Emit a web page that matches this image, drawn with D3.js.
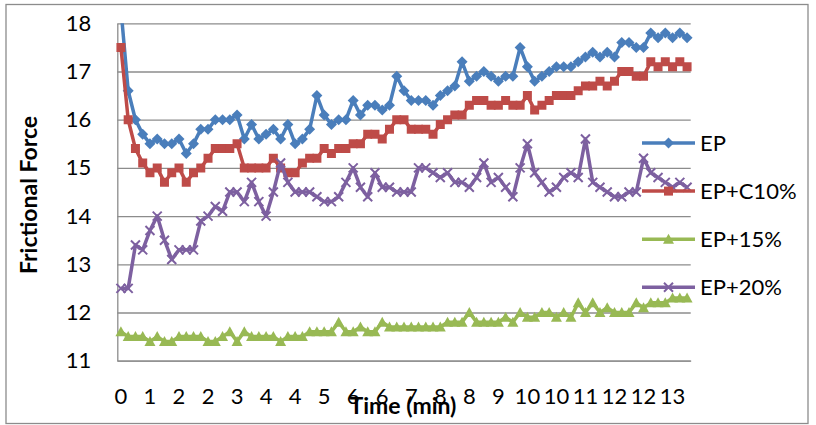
<!DOCTYPE html>
<html>
<head>
<meta charset="utf-8">
<script src="https://cdn.jsdelivr.net/npm/d3@7"></script>
<style>
	body { margin: 0; background: #fff; }
	text { font-family: Lato, "Open Sans", sans-serif; fill: #000; }
</style>
</head>
<body>
<div id="chart-area"></div>
<script>
/*
*    frictional force vs time
*/

var seriesNames = ["EP", "EP+C10%", "EP+15%", "EP+20%"];

var ep = [18.3, 16.6, 16.0, 15.7, 15.5, 15.6, 15.5, 15.5, 15.6, 15.3,
	15.5, 15.8, 15.8, 16.0, 16.0, 16.0, 16.1, 15.6, 15.9, 15.6,
	15.7, 15.8, 15.6, 15.9, 15.5, 15.6, 15.8, 16.5, 16.1, 15.9,
	16.0, 16.0, 16.4, 16.1, 16.3, 16.3, 16.2, 16.3, 16.9, 16.6,
	16.4, 16.4, 16.4, 16.3, 16.5, 16.6, 16.7, 17.2, 16.8, 16.9,
	17.0, 16.9, 16.8, 16.9, 16.9, 17.5, 17.1, 16.8, 16.9, 17.0,
	17.1, 17.1, 17.1, 17.2, 17.3, 17.4, 17.3, 17.4, 17.3, 17.6,
	17.6, 17.5, 17.5, 17.8, 17.7, 17.8, 17.7, 17.8, 17.7];

var epC10 = [17.5, 16.0, 15.4, 15.1, 14.9, 15.0, 14.7, 14.9, 15.0, 14.7,
	14.9, 15.0, 15.2, 15.4, 15.4, 15.4, 15.5, 15.0, 15.0, 15.0,
	15.0, 15.2, 15.0, 14.9, 14.9, 15.1, 15.2, 15.2, 15.4, 15.3,
	15.4, 15.4, 15.5, 15.5, 15.7, 15.7, 15.6, 15.8, 16.0, 16.0,
	15.8, 15.8, 15.8, 15.7, 15.9, 16.0, 16.1, 16.1, 16.3, 16.4,
	16.4, 16.3, 16.3, 16.4, 16.3, 16.3, 16.5, 16.2, 16.3, 16.4,
	16.5, 16.5, 16.5, 16.6, 16.7, 16.7, 16.8, 16.7, 16.8, 17.0,
	17.0, 16.9, 16.9, 17.2, 17.1, 17.2, 17.1, 17.2, 17.1];

var ep15 = [11.6, 11.5, 11.5, 11.5, 11.4, 11.5, 11.4, 11.4, 11.5, 11.5,
	11.5, 11.5, 11.4, 11.4, 11.5, 11.6, 11.4, 11.6, 11.5, 11.5,
	11.5, 11.5, 11.4, 11.5, 11.5, 11.5, 11.6, 11.6, 11.6, 11.6,
	11.8, 11.6, 11.6, 11.7, 11.6, 11.6, 11.8, 11.7, 11.7, 11.7,
	11.7, 11.7, 11.7, 11.7, 11.7, 11.8, 11.8, 11.8, 12.0, 11.8,
	11.8, 11.8, 11.8, 11.9, 11.8, 12.0, 11.9, 11.9, 12.0, 12.0,
	11.9, 12.0, 11.9, 12.2, 12.0, 12.2, 12.0, 12.1, 12.0, 12.0,
	12.0, 12.2, 12.1, 12.2, 12.2, 12.2, 12.3, 12.3, 12.3];

var ep20 = [12.5, 12.5, 13.4, 13.3, 13.7, 14.0, 13.5, 13.1, 13.3, 13.3,
	13.3, 13.9, 14.0, 14.2, 14.1, 14.5, 14.5, 14.3, 14.7, 14.3,
	14.0, 14.5, 15.1, 14.7, 14.5, 14.5, 14.5, 14.4, 14.3, 14.3,
	14.4, 14.7, 15.0, 14.6, 14.4, 14.9, 14.6, 14.6, 14.5, 14.5,
	14.5, 15.0, 15.0, 14.9, 14.8, 14.9, 14.7, 14.7, 14.6, 14.8,
	15.1, 14.7, 14.8, 14.6, 14.4, 15.0, 15.5, 14.9, 14.7, 14.5,
	14.6, 14.8, 14.9, 14.8, 15.6, 14.7, 14.6, 14.5, 14.4, 14.4,
	14.5, 14.5, 15.2, 14.9, 14.8, 14.7, 14.6, 14.7, 14.6];

// every 4th time point gets a label (minutes, rounded)
var timeLabels = ["0", "1", "2", "2", "3", "4", "4", "5", "6", "6",
	"7", "8", "8", "9", "10", "10", "11", "12", "12", "13"];

var yTicks = [11, 12, 13, 14, 15, 16, 17, 18];

var colors = ["#4A7EBB", "#BE4B48", "#98B954", "#7D60A0"];
var markers = ["diamond", "square", "triangle", "cross"];

var margin = { left: 117.3, top: 23.3 };
var width = 573.4;
var height = 337.4;

var svg = d3.select("#chart-area").append("svg")
	.attr("width", 816)
	.attr("height", 425);

// chart border
svg.append("rect")
	.attr("x", 6)
	.attr("y", 4.5)
	.attr("width", 802)
	.attr("height", 419)
	.attr("fill", "none")
	.attr("stroke", "#8c8c8c")
	.attr("stroke-width", 1.3);

var g = svg.append("g")
	.attr("transform", "translate(" + margin.left + ", " + margin.top + ")");

// Scales
var x = d3.scaleBand()
	.domain(d3.range(ep.length))
	.range([0, width]);

var y = d3.scaleLinear()
	.domain([11, 18])
	.range([height, 0]);

var cx = (d, i) => x(i) + x.bandwidth() / 2;

// gridlines
g.append("g")
	.attr("class", "grid")
	.call(d3.axisLeft(y).tickValues(yTicks).tickSize(-width).tickFormat(""))
	.call((sel) => sel.select(".domain").remove())
	.selectAll("line")
	.attr("stroke", "#8c8c8c")
	.attr("stroke-width", 1.3);

// Axis calls
var xAxisCall = d3.axisBottom(x)
	.tickValues(d3.range(0, ep.length, 4))
	.tickSize(0)
	.tickPadding(28)
	.tickFormat((d, i) => timeLabels[i]);

var yAxisCall = d3.axisLeft(y)
	.tickValues(yTicks)
	.tickSize(0)
	.tickPadding(26)
	.tickFormat(d3.format("d"));

var xAxisGroup = g.append("g")
	.attr("class", "x axis")
	.attr("transform", "translate(0, " + height + ")")
	.call(xAxisCall);

var yAxisGroup = g.append("g")
	.attr("class", "y axis")
	.call(yAxisCall);

[xAxisGroup, yAxisGroup].forEach((ax) => {
	ax.select(".domain").attr("stroke", "#8c8c8c").attr("stroke-width", 1.3);
	ax.selectAll("text")
		.style("font-family", "Lato, sans-serif")
		.style("font-size", "22px")
		.attr("fill", "#000");
});

// marker shapes
function markerPath(type) {
	if (type == "diamond") return "M0,-5.5L5.5,0L0,5.5L-5.5,0Z";
	if (type == "square") return "M-4.5,-4.5H4.5V4.5H-4.5Z";
	if (type == "triangle") return "M0,-5.5L5.5,4.5H-5.5Z";
	return "M-4.5,-4.5L4.5,4.5M4.5,-4.5L-4.5,4.5";
}

function drawMarker(sel, type, color) {
	var p = sel.append("path").attr("d", markerPath(type));
	if (type == "cross") {
		p.attr("fill", "none").attr("stroke", color).attr("stroke-width", 2);
	} else {
		p.attr("fill", color);
	}
	return p;
}

// clip lines to the plot area (first EP value is above 18)
svg.append("clipPath")
	.attr("id", "plot-clip")
	.append("rect")
	.attr("x", -10)
	.attr("y", 0)
	.attr("width", width + 20)
	.attr("height", height + 20);

var plot = g.append("g").attr("clip-path", "url(#plot-clip)");

var line = d3.line()
	.x(cx)
	.y((d) => y(d));

var allSeries = [ep, epC10, ep15, ep20];

allSeries.forEach((data, s) => {
	plot.append("path")
		.datum(data)
		.attr("fill", "none")
		.attr("stroke", colors[s])
		.attr("stroke-width", 3.5)
		.attr("stroke-linejoin", "round")
		.attr("d", line);

	data.forEach((d, i) => {
		var m = plot.append("g")
			.attr("transform", "translate(" + cx(d, i) + ", " + y(d) + ")");
		drawMarker(m, markers[s], colors[s]);
	});
});

// x label
svg.append("text")
	.attr("x", 403)
	.attr("y", 414)
	.attr("text-anchor", "middle")
	.style("font-size", "23px")
	.style("font-weight", "bold")
	.text("Time (min)");

// y label
svg.append("text")
	.attr("transform", "rotate(-90)")
	.attr("x", -195)
	.attr("y", 37)
	.attr("text-anchor", "middle")
	.style("font-size", "23px")
	.style("font-weight", "bold")
	.text("Frictional Force");

// legend
var legend = svg.append("g")
	.attr("transform", "translate(642, 143)");

seriesNames.forEach((name, i) => {
	var legendRow = legend.append("g")
		.attr("transform", "translate(0, " + (i * 48.1) + ")");

	legendRow.append("line")
		.attr("x1", 0)
		.attr("x2", 53)
		.attr("stroke", colors[i])
		.attr("stroke-width", 3.5);

	drawMarker(legendRow.append("g").attr("transform", "translate(26.5, 0)"), markers[i], colors[i]);

	legendRow.append("text")
		.attr("x", 58)
		.attr("y", 0)
		.attr("dy", "0.36em")
		.style("font-size", "22px")
		.text(name);
});
</script>
</body>
</html>
